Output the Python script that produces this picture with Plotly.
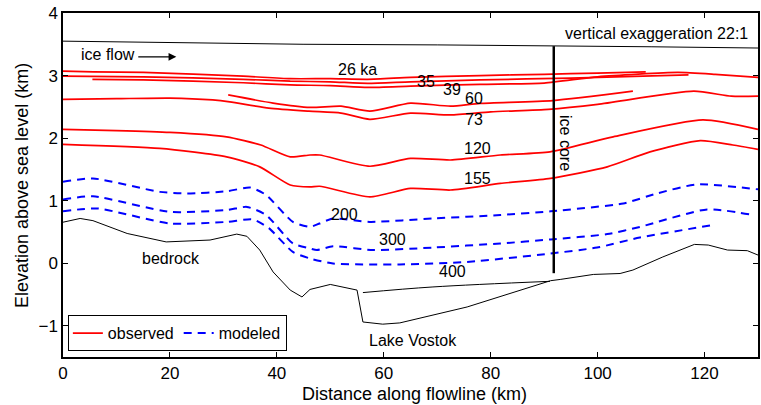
import plotly.graph_objects as go

# ---- data (km along flowline, elevation km) ----
surface_x = [0, 20, 36.8, 44.9, 70, 91.1, 110, 130]
surface_y = [3.55, 3.53, 3.515, 3.50, 3.49, 3.48, 3.46, 3.44]

obs26_x = [0, 5.7, 15, 33.7, 42.5, 50, 57, 65, 78, 90, 100, 109]
obs26_y = [3.07, 3.06, 3.05, 2.99, 2.95, 2.95, 2.94, 2.97, 3.00, 3.02, 3.04, 3.06]
obs35_x = [0, 15, 33.7, 42.5, 50, 57, 65, 78, 95, 117]
obs35_y = [2.99, 2.98, 2.94, 2.91, 2.90, 2.875, 2.90, 2.93, 2.96, 3.01]
obs39_x = [5.5, 15, 33.7, 42.5, 50, 57, 65, 78, 90, 100, 115, 122, 130]
obs39_y = [2.94, 2.93, 2.885, 2.85, 2.84, 2.81, 2.83, 2.86, 2.88, 2.98, 3.05, 3.02, 2.97]
obs60_x = [30.9, 39.3, 46.2, 52, 57.4, 65, 72.5, 78, 91.6, 106.6]
obs60_y = [2.69, 2.56, 2.49, 2.51, 2.43, 2.56, 2.51, 2.555, 2.60, 2.75]
obs73_x = [0, 10, 20, 28, 31.2, 38.5, 46, 52, 57.4, 65, 72.5, 80, 90.8, 100, 118, 125, 130]
obs73_y = [2.62, 2.63, 2.64, 2.61, 2.58, 2.48, 2.43, 2.40, 2.30, 2.40, 2.37, 2.42, 2.46, 2.54, 2.75, 2.67, 2.67]
obs120_x = [0, 10, 20, 30.6, 37, 42.5, 46.2, 48, 57.4, 65, 72.5, 81.8, 91.1, 102.9, 119.7, 130]
obs120_y = [2.14, 2.12, 2.09, 2.02, 1.89, 1.70, 1.73, 1.73, 1.55, 1.675, 1.65, 1.73, 1.78, 2.02, 2.29, 2.14]
obs155_x = [0, 18.1, 30.6, 36.8, 42.5, 46.2, 48, 57.4, 65, 72.5, 81.8, 91.2, 101.8, 109.8, 119.2, 125.3, 130]
obs155_y = [1.90, 1.835, 1.70, 1.54, 1.25, 1.22, 1.23, 1.06, 1.195, 1.17, 1.275, 1.355, 1.54, 1.78, 1.96, 1.89, 1.82]

mod200_x = [0, 5.6, 18.1, 23.2, 30.7, 35, 38, 43, 46.2, 48, 50.5, 57.4, 69.2, 81.8, 91.2, 104.8, 111.1, 118.6, 130]
mod200_y = [1.30, 1.355, 1.14, 1.115, 1.15, 1.21, 1.09, 0.66, 0.58, 0.635, 0.715, 0.66, 0.715, 0.77, 0.83, 0.955, 1.115, 1.26, 1.18]
mod300_x = [0, 5.6, 20, 30.7, 34.4, 38, 43, 46.2, 47.5, 50.5, 58, 69.2, 81.8, 91.2, 101.8, 107.9, 120.5, 128.5]
mod300_y = [1.02, 1.07, 0.82, 0.85, 0.90, 0.77, 0.315, 0.235, 0.21, 0.27, 0.21, 0.25, 0.315, 0.38, 0.465, 0.58, 0.86, 0.78]
mod400_x = [0, 6.4, 20, 30.7, 35.5, 38.5, 43, 46.2, 50.5, 63, 75.6, 91.2, 99.9, 107.9, 121.6]
mod400_y = [0.83, 0.875, 0.635, 0.66, 0.70, 0.56, 0.18, 0.075, -0.005, -0.02, 0.02, 0.155, 0.25, 0.41, 0.61]

bed_x = [0, 3.2, 5.6, 12, 19.3, 27.5, 32.5, 34.4, 36.8, 39.3, 42.5, 44.7, 46.2, 50, 55, 56.1, 59.8, 63,
         75.6, 91.2, 93, 99.2, 104.2, 106.6, 112.2, 118.1, 120.7, 124.3, 128, 130]
bed_y = [0.655, 0.715, 0.68, 0.475, 0.34, 0.37, 0.465, 0.43, 0.21, -0.14, -0.43, -0.54, -0.42, -0.34, -0.43,
         -0.94, -0.975, -0.955, -0.70, -0.28, -0.26, -0.18, -0.165, -0.11, 0.10, 0.30, 0.29, 0.21, 0.20, 0.13]
lake_x = [56.1, 69.2, 91.1]
lake_y = [-0.47, -0.38, -0.29]

core_x = [91.8, 91.8]
core_y = [3.47, -0.16]

age_labels = ["26 ka", "35", "39", "60", "73", "120", "155", "200", "300", "400"]
age_label_x = [55, 67.9, 72.8, 76.9, 76.9, 77.6, 77.6, 52.7, 61.7, 72.8]
age_label_y = [3.09, 2.90, 2.78, 2.64, 2.29, 1.84, 1.36, 0.78, 0.38, -0.14]

x_ticks = [0, 20, 40, 60, 80, 100, 120]
y_ticks = [-1, 0, 1, 2, 3, 4]

FONT = "Liberation Sans, Arial, Helvetica, sans-serif"
RED = "#ff0000"
BLUE = "#0000ff"
LBL = 16

fig = go.Figure()

fig.add_trace(go.Scatter(x=surface_x, y=surface_y, mode="lines",
                         line=dict(color="black", width=1), showlegend=False))

obs = [(obs26_x, obs26_y), (obs35_x, obs35_y), (obs39_x, obs39_y), (obs60_x, obs60_y),
       (obs73_x, obs73_y), (obs120_x, obs120_y), (obs155_x, obs155_y)]
for i, (xs, ys) in enumerate(obs):
    fig.add_trace(go.Scatter(x=xs, y=ys, mode="lines", line=dict(color=RED, width=1.7, shape="spline", smoothing=0.6),
                             name="observed", legendgroup="obs", showlegend=(i == 0)))

mod = [(mod200_x, mod200_y), (mod300_x, mod300_y), (mod400_x, mod400_y)]
for i, (xs, ys) in enumerate(mod):
    fig.add_trace(go.Scatter(x=xs, y=ys, mode="lines",
                             line=dict(color=BLUE, width=2, dash="8px,6px", shape="spline", smoothing=0.6),
                             name="modeled", legendgroup="mod", showlegend=(i == 0)))

fig.add_trace(go.Scatter(x=bed_x, y=bed_y, mode="lines", line=dict(color="black", width=1),
                         showlegend=False))
fig.add_trace(go.Scatter(x=lake_x, y=lake_y, mode="lines", line=dict(color="black", width=1, shape="spline"),
                         showlegend=False))
fig.add_trace(go.Scatter(x=core_x, y=core_y, mode="lines", line=dict(color="black", width=2.5),
                         showlegend=False))

annotations = []
for t, ax_, ay_ in zip(age_labels, age_label_x, age_label_y):
    annotations.append(dict(x=ax_, y=ay_, text=t, showarrow=False, xref="x", yref="y",
                            font=dict(family=FONT, size=LBL, color="black")))
annotations += [
    dict(x=20.2, y=0.08, text="bedrock", showarrow=False, font=dict(family=FONT, size=LBL, color="black")),
    dict(x=65.5, y=-1.23, text="Lake Vostok", showarrow=False, font=dict(family=FONT, size=LBL, color="black")),
    dict(x=111, y=3.68, text="vertical exaggeration 22:1", showarrow=False,
         font=dict(family=FONT, size=LBL, color="black")),
    dict(x=94.1, y=1.92, text="ice core", showarrow=False, textangle=90,
         font=dict(family=FONT, size=LBL, color="black")),
    dict(x=2.9, y=3.33, text="ice flow", showarrow=False, xanchor="left",
         font=dict(family=FONT, size=LBL, color="black")),
    dict(x=21.2, y=3.30, ax=13.8, ay=3.30, axref="x", ayref="y", xref="x", yref="y", text="",
         showarrow=True, arrowhead=2, arrowsize=1.3, arrowwidth=1.2, arrowcolor="black"),
    # axis titles
    dict(x=0.506, y=-0.107, xref="paper", yref="paper", text="Distance along flowline (km)",
         showarrow=False, xanchor="center", yanchor="middle",
         font=dict(family=FONT, size=18, color="black")),
    dict(x=-0.059, y=0.5, xref="paper", yref="paper", text="Elevation above sea level (km)",
         showarrow=False, xanchor="center", yanchor="middle", textangle=-90,
         font=dict(family=FONT, size=18, color="black")),
]

axis_common = dict(showline=True, linecolor="black", linewidth=1.5, mirror="ticks", ticks="inside",
                   ticklen=5, tickwidth=1, tickcolor="black", showgrid=False, zeroline=False,
                   automargin=False,
                   tickfont=dict(family=FONT, size=17, color="black"))

fig.update_layout(
    width=761, height=405,
    margin=dict(l=63, r=3, t=13, b=48),
    paper_bgcolor="white", plot_bgcolor="white",
    font=dict(family=FONT, size=17, color="black"),
    xaxis=dict(range=[0, 130], tickvals=x_ticks, **axis_common),
    yaxis=dict(range=[-1.5, 4], tickvals=y_ticks, **axis_common),
    legend=dict(x=0.007, y=0.017, xanchor="left", yanchor="bottom", orientation="h",
                bgcolor="white", bordercolor="black", borderwidth=1,
                font=dict(family=FONT, size=16, color="black"), tracegroupgap=0,
                itemwidth=30),
    annotations=annotations,
    showlegend=True,
)

fig.write_html("out.html", config={"displayModeBar": False},
               post_script="document.body.style.margin='0';document.body.style.padding='0';")
